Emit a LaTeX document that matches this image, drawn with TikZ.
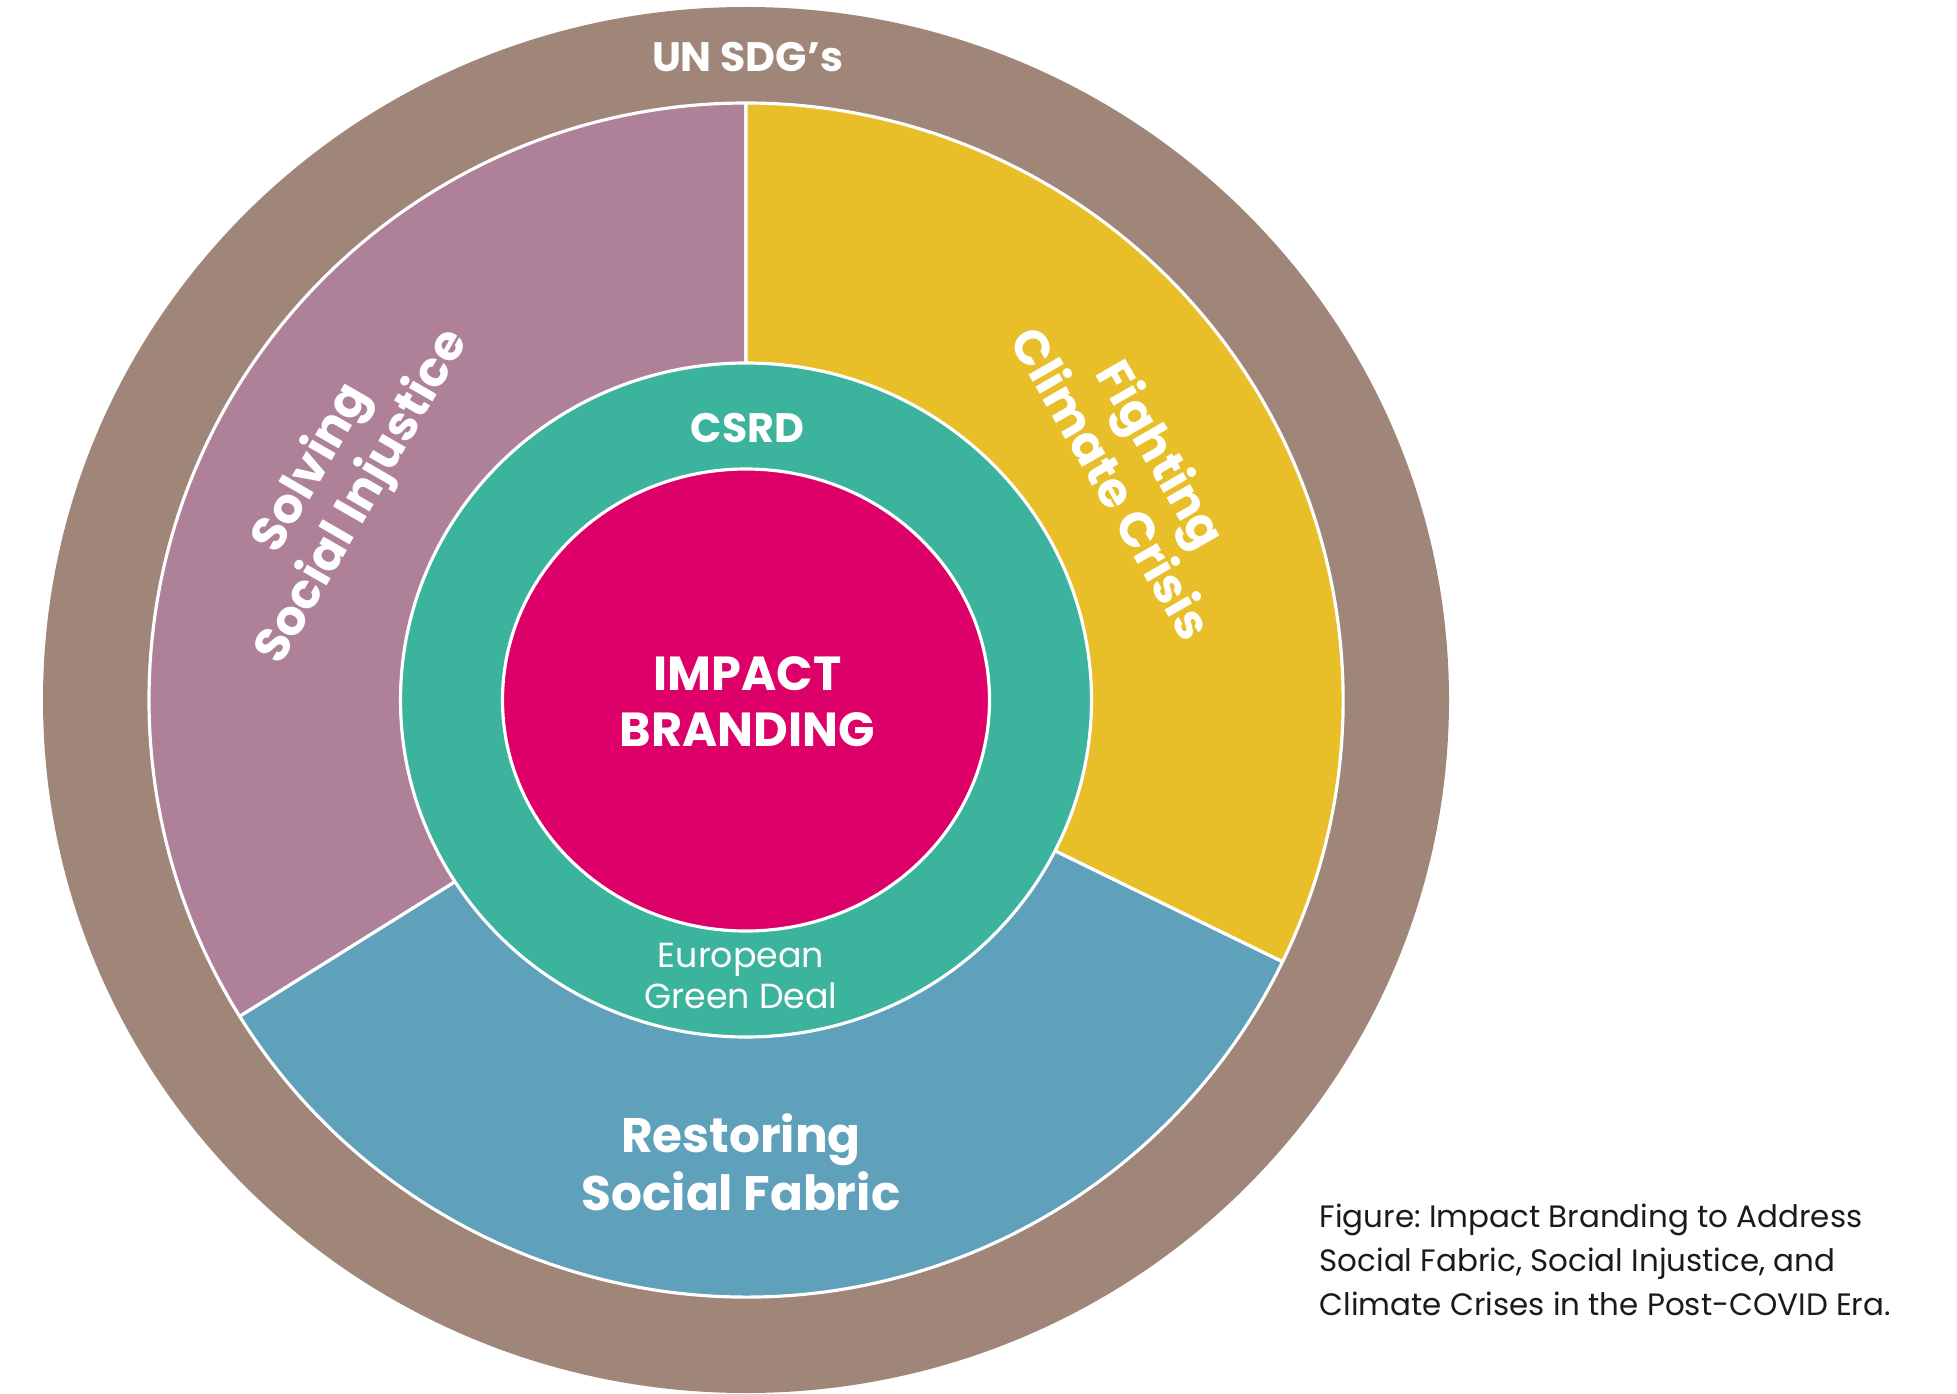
\documentclass[tikz,border=0pt]{standalone}
\usepackage{fontspec}
\setmainfont{Poppins}
\usepackage{xcolor}
\usepackage{tikz}
\usetikzlibrary{positioning}
\definecolor{sdgbrown}{HTML}{A08579}
\definecolor{justicemauve}{HTML}{AF8198}
\definecolor{climateyellow}{HTML}{E8BE29}
\definecolor{fabricblue}{HTML}{5FA0BB}
\definecolor{csrdteal}{HTML}{3BB39D}
\definecolor{impactpink}{HTML}{DC0068}
\definecolor{captionink}{HTML}{1A1A1A}
\frenchspacing

\begin{document}
\begin{tikzpicture}[
    seg/.style={draw=white, line width=0.9pt, line join=round},
    ring/.style={draw=white, line width=0.9pt},
    ringlbl/.style={text=white, font=\bfseries\fontsize{11.7}{14}\selectfont, align=center, inner sep=0pt},
    seglbl/.style={text=white, font=\bfseries\fontsize{13.8}{16.5}\selectfont, align=center, inner sep=0pt},
    corelbl/.style={text=white, font=\bfseries\fontsize{13.6}{16}\selectfont, align=center, inner sep=0pt},
    deallbl/.style={text=white, font=\fontsize{9.9}{11.5}\selectfont, align=center, inner sep=0pt},
    caption/.style={text=captionink, font=\fontsize{8.8}{12.5}\selectfont, align=left, inner sep=0pt}
]
    \useasboundingbox (0,0) rectangle (19.57,13.93);
    \coordinate (ctr) at (7.46,6.93);

    % === outer ring: UN SDG's ===
    \fill[sdgbrown] (ctr) ellipse [x radius=7.03, y radius=6.93];

    % === three segments ===
    \filldraw[seg, fill=justicemauve] (ctr) -- ++(90:5.97)
        arc[start angle=90, end angle=212, radius=5.97] -- cycle;
    \filldraw[seg, fill=fabricblue] (ctr) -- ++(212:5.97)
        arc[start angle=212, end angle=334, radius=5.97] -- cycle;
    \filldraw[seg, fill=climateyellow] (ctr) -- ++(-26:5.97)
        arc[start angle=-26, end angle=90, radius=5.97] -- cycle;

    % === CSRD ring and core ===
    \filldraw[ring, fill=csrdteal] (ctr) ellipse [x radius=3.455, y radius=3.37];
    \filldraw[ring, fill=impactpink] (ctr) ellipse [x radius=2.435, y radius=2.31];

    % --- labels ---
    \node[ringlbl] (sdg) at (7.475,13.36) {UN SDG’s};
    \node[ringlbl] (csrd) at (7.475,9.65) {CSRD};
    \node[corelbl] (impact) at (7.475,6.91) {IMPACT\\BRANDING};
    \node[deallbl] (deal) at (7.41,4.17) {European\\Green Deal};
    \node[seglbl] (fabric) at (7.41,2.31) {Restoring\\Social Fabric};
    \node[seglbl, rotate=60] (justice) at (3.38,9.10) {Solving\\Social Injustice};
    \node[seglbl, rotate=-60] (climate) at (11.38,9.25) {Fighting\\Climate Crisis};

    % --- caption ---
    \node[caption, anchor=west] (cap) at (13.19,1.33)
        {Figure: Impact Branding to Address\\Social Fabric, Social Injustice, and\\Climate Crises in the Post-COVID Era.};
\end{tikzpicture}
\end{document}
